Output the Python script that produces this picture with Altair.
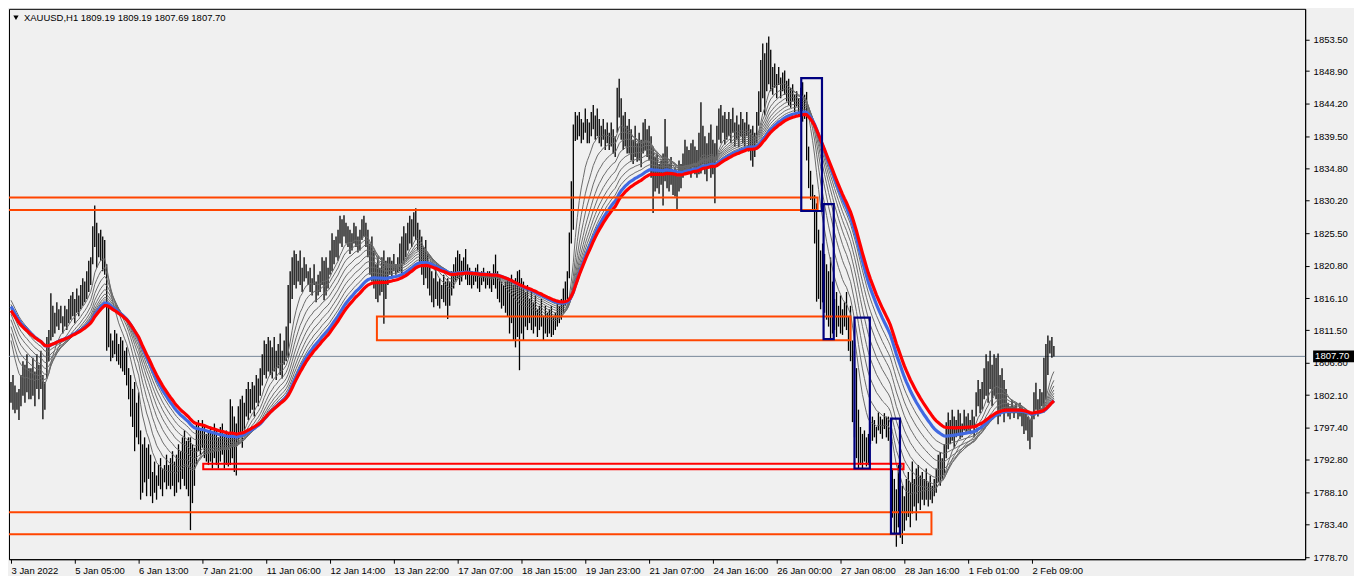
import json
import altair as alt
import pandas as pd

# ---------------- data (XAUUSD H1, one value per bar) ----------------
HIGH = [
    1804, 1805, 1803.5, 1802.5, 1803, 1805, 1807, 1806.5, 1808, 1806,
    1806, 1807.5, 1805.5, 1808, 1806.5, 1808.5, 1805, 1804, 1810.5, 1811.5,
    1816.8, 1815, 1814, 1815.5, 1814.5, 1815, 1813.5, 1815, 1814.5, 1816,
    1816.5, 1817, 1816, 1817.5, 1816.5, 1818, 1819, 1818.5, 1820, 1821.5,
    1822, 1826.5, 1829.5, 1827, 1825.5, 1826, 1825, 1824.5, 1821, 1815,
    1811, 1810, 1811.5, 1811, 1809.5, 1810.5, 1810, 1808.5, 1809, 1806,
    1805, 1803, 1804, 1801, 1802.5, 1797, 1795, 1796, 1794.5, 1795,
    1793.5, 1791, 1792.5, 1790.5, 1792, 1793, 1791.5, 1792, 1793.5, 1792,
    1793, 1794, 1792.5, 1793.5, 1795, 1794, 1796, 1797, 1795.5, 1796,
    1796, 1795, 1794.5, 1798, 1798.5, 1797, 1798.5, 1797.5, 1796.5, 1797,
    1797.5, 1796.5, 1798, 1797, 1796, 1797.5, 1798, 1796.5, 1797, 1796.5,
    1801.5, 1800.5, 1799, 1798, 1800.5, 1801.5, 1802, 1801, 1803, 1804,
    1803, 1804, 1803.5, 1805, 1804.5, 1806, 1808, 1810, 1809.5, 1810.5,
    1810, 1809, 1810.5, 1808.5, 1809.5, 1811, 1808.5, 1810, 1812, 1818,
    1820, 1822, 1823, 1822.5, 1821.5, 1823, 1820.5, 1822, 1821, 1820,
    1820.5, 1819, 1821, 1818.5, 1819.5, 1820, 1822, 1821.5, 1822, 1820.5,
    1823, 1825.5, 1824.5, 1825, 1826, 1828, 1827.5, 1828.1, 1827, 1826.5,
    1826, 1825.5, 1827, 1826.5, 1825, 1826, 1827.5, 1828, 1827, 1826,
    1824, 1825, 1823, 1821, 1822, 1820.5, 1822, 1823, 1821.5, 1822,
    1822, 1821.5, 1822.5, 1821, 1822, 1824, 1825, 1826.5, 1825.5, 1827,
    1828, 1827.5, 1828.5, 1829.1, 1827, 1826, 1825, 1823.5, 1824.5, 1822.5,
    1821, 1820, 1819, 1820.5, 1818.5, 1819, 1818, 1819.5, 1818.5, 1819,
    1818.5, 1820, 1821, 1822, 1823, 1822.5, 1821.5, 1822, 1823.2, 1821,
    1820.5, 1820, 1819.5, 1820.5, 1821, 1819.5, 1820, 1820.5, 1819.5, 1820,
    1820, 1819.5, 1821, 1822.4, 1820, 1819, 1818.5, 1818, 1818.5, 1819,
    1818.5, 1819.5, 1818, 1819, 1820, 1820.2, 1819, 1818.5, 1817, 1818,
    1816, 1817, 1815.5, 1816.5, 1814.5, 1815, 1816, 1813.5, 1815, 1814,
    1814.5, 1815, 1813.5, 1814, 1815.5, 1815, 1816, 1817.5, 1818.5, 1820,
    1825.6, 1833, 1841.2, 1843, 1842.5, 1843, 1842, 1841.5, 1843.5, 1842,
    1841.5, 1843, 1844, 1842.5, 1843.5, 1842, 1841, 1842, 1840.5, 1841.5,
    1840, 1841.5, 1840.5, 1839.5, 1846.5, 1847.8, 1845, 1842.5, 1843, 1841,
    1842, 1840.5, 1839, 1841, 1838.5, 1840, 1839, 1841.5, 1842, 1840.5,
    1841, 1839.5, 1838, 1836.5, 1837, 1835.5, 1836, 1837, 1842, 1838,
    1835.5, 1836.5, 1834.5, 1835, 1834, 1836, 1835.5, 1837, 1839, 1838,
    1837.5, 1838.5, 1839, 1838, 1837.5, 1840, 1844.4, 1841, 1839.5, 1838.5,
    1840, 1841.2, 1839, 1838.5, 1841, 1843.5, 1844, 1842.5, 1843, 1842,
    1843, 1842, 1843.6, 1841.5, 1842.5, 1841.2, 1843, 1842, 1841.5, 1843,
    1841.2, 1840.5, 1841, 1840, 1843, 1846, 1850.5, 1852.9, 1851.5, 1853,
    1853.9, 1852, 1849.5, 1850, 1848.5, 1849.5, 1848, 1848.7, 1849, 1847.5,
    1847.8, 1846.5, 1847, 1845.5, 1846, 1845, 1846.5, 1847.3, 1845.5, 1845.9,
    1838, 1834.5, 1832.5, 1831, 1829.8, 1826, 1823, 1824, 1822.5, 1821,
    1820, 1822, 1818.5, 1816, 1817, 1815, 1816.5, 1814.5, 1815.5, 1817,
    1813.5, 1815, 1810, 1808.5, 1806, 1800, 1797.5, 1796.5, 1797, 1796,
    1796.5, 1798, 1799, 1798.5, 1797.5, 1799.6, 1799, 1798.6, 1799.5, 1799,
    1799, 1797, 1791.5, 1790, 1788.5, 1792, 1791, 1789, 1787.5, 1790,
    1791, 1789.5, 1792.5, 1790, 1791.5, 1792, 1790.5, 1791, 1790, 1791.5,
    1789.5, 1790.5, 1789, 1790, 1791.5, 1793.5, 1793.9, 1793, 1795, 1798.2,
    1799.6, 1798.5, 1800, 1799, 1798.5, 1800, 1799.5, 1798, 1800, 1799,
    1799.5, 1798.5, 1800, 1799, 1802.5, 1804.3, 1803, 1804, 1806, 1808,
    1807, 1808.5, 1806.5, 1808, 1807.5, 1808.1, 1805, 1806, 1804.3, 1803,
    1801, 1800.5, 1801.4, 1800.5, 1801, 1800, 1801, 1800.5, 1800, 1799.5,
    1799, 1798.6, 1799.5, 1802.5, 1803.9, 1801.5, 1803, 1802.5, 1807.5, 1809.5,
    1810.7, 1810, 1810.5, 1809.19,
]
LOW = [
    1801, 1800, 1799.5, 1800, 1798.5, 1800.5, 1802, 1801, 1802.5, 1801.5,
    1801.5, 1802, 1800.5, 1803, 1801.5, 1803, 1798.6, 1800, 1804.5, 1807,
    1810, 1810.5, 1811, 1812, 1811.5, 1812.5, 1811, 1812, 1811.5, 1812.5,
    1813, 1813.5, 1812.5, 1814, 1813.5, 1814.5, 1815, 1815.5, 1816, 1817,
    1818, 1821, 1823.5, 1820.5, 1822, 1821.5, 1820, 1819.5, 1808.5, 1809,
    1807, 1807.5, 1808, 1807, 1806.5, 1806, 1805.5, 1805, 1803.5, 1801.5,
    1799, 1797.5, 1794, 1796, 1795, 1787, 1788, 1789.5, 1787.5, 1790,
    1787.5, 1786.5, 1788, 1787, 1789, 1788.5, 1787.5, 1789.5, 1788.5, 1789,
    1788.5, 1789, 1787.5, 1788, 1789.5, 1788.5, 1790, 1789, 1788.5, 1787.5,
    1782.6, 1786.5, 1789, 1792, 1794, 1793.5, 1794.5, 1793, 1792.5, 1792,
    1792.5, 1791.5, 1793, 1792, 1791.5, 1792.5, 1793.5, 1791.5, 1792, 1791.8,
    1792, 1793, 1791, 1790.5, 1795, 1796, 1794.5, 1797, 1799, 1798.5,
    1799.5, 1800, 1799, 1801, 1800.5, 1802, 1803.5, 1805, 1804.5, 1805.5,
    1805, 1804.5, 1805.5, 1804.3, 1806, 1805, 1804.5, 1806.5, 1807, 1807.5,
    1812.5, 1816, 1818, 1817.5, 1818.5, 1818, 1817, 1818.5, 1819, 1818,
    1817, 1816.5, 1818, 1815.5, 1816.5, 1817, 1818, 1815.8, 1816.5, 1817.5,
    1819.5, 1820, 1821, 1822, 1821.5, 1824, 1823.5, 1825, 1824, 1823.5,
    1822.5, 1823, 1824, 1823.5, 1822.7, 1823, 1824.5, 1825, 1823.5, 1822,
    1819.5, 1818.5, 1817.5, 1816, 1815.5, 1816.5, 1817, 1812.4, 1816, 1818,
    1819.5, 1819, 1820, 1819.5, 1819.8, 1820, 1819.5, 1821, 1822, 1823,
    1824, 1823.5, 1825, 1824.5, 1823, 1821, 1819.5, 1818, 1819, 1817.5,
    1816.5, 1815.5, 1814.8, 1816, 1815, 1814.6, 1816, 1815.5, 1815, 1813.1,
    1815, 1816.5, 1817.5, 1818.5, 1819, 1818, 1818.5, 1819.5, 1818.8, 1818,
    1818, 1817.5, 1818, 1818.5, 1817.5, 1817, 1818, 1818.5, 1817.5, 1818,
    1817.5, 1817, 1818, 1817.5, 1816, 1815.5, 1814.6, 1815, 1814, 1813.5,
    1811, 1812.5, 1810, 1809, 1810.5, 1805.7, 1811, 1810, 1812, 1811.5,
    1812.5, 1811.5, 1811, 1812, 1810.5, 1811.5, 1812, 1810, 1811, 1810.5,
    1811, 1810.5, 1810.8, 1811.5, 1812, 1812.5, 1813, 1814, 1815, 1816,
    1819, 1824, 1826, 1838.8, 1839, 1839.5, 1838.5, 1839, 1840, 1838.5,
    1838.5, 1839.5, 1840.5, 1839, 1839.5, 1838.5, 1838, 1839, 1837.5, 1838.5,
    1837.5, 1838, 1837, 1836.5, 1840, 1842.2, 1839, 1837.5, 1838, 1837,
    1837, 1836, 1835.5, 1836.5, 1835.8, 1836, 1835, 1837, 1837.5, 1836.5,
    1836, 1833.5, 1828.4, 1831.5, 1832, 1831.2, 1832.5, 1829.5, 1833, 1832,
    1831.5, 1832.5, 1831, 1830.8, 1828.7, 1831.5, 1832, 1833.5, 1834.5, 1834,
    1834.5, 1833.5, 1835, 1834, 1833.5, 1834, 1834.1, 1835.5, 1834, 1833,
    1835, 1833.5, 1834, 1829.8, 1836, 1839, 1838.5, 1840, 1838.3, 1839,
    1839.5, 1838.5, 1840, 1838, 1839, 1837.9, 1839.5, 1838.5, 1838, 1839.5,
    1837.3, 1836, 1835.1, 1836.5, 1838.5, 1841, 1843, 1845, 1842.5, 1846,
    1847, 1846, 1845.5, 1846.5, 1845, 1846.9, 1845, 1846, 1845.5, 1844.5,
    1844, 1843.6, 1844.5, 1843, 1843.8, 1842.5, 1843, 1841.6, 1842, 1836,
    1832, 1830.3, 1828.9, 1824, 1815.6, 1816, 1814.5, 1815.5, 1814, 1813,
    1812, 1810, 1811, 1811.5, 1810.5, 1812, 1811, 1810.8, 1812, 1811.5,
    1808.5, 1807, 1798.2, 1796, 1793, 1791.5, 1792, 1791.5, 1792.5, 1791.8,
    1792, 1795, 1795.5, 1796, 1795.1, 1797, 1796.5, 1795.8, 1797.2, 1796,
    1795.5, 1792, 1784.4, 1782, 1780.2, 1783, 1781.5, 1780.6, 1782.5, 1784,
    1784.5, 1783, 1785, 1786, 1784, 1786.5, 1785.5, 1787, 1786.2, 1787,
    1786, 1787, 1786.5, 1787.5, 1788, 1789.5, 1789, 1790, 1790.5, 1793,
    1794.3, 1795, 1795.5, 1794.5, 1796, 1796.5, 1795.8, 1796, 1797, 1796.5,
    1797, 1796.5, 1797.5, 1796, 1799, 1800.5, 1799.5, 1800, 1801.5, 1802,
    1801, 1803, 1800.5, 1802, 1801.5, 1797.9, 1799, 1800, 1798.2, 1799.5,
    1799, 1798.6, 1799.5, 1798.8, 1799.5, 1798.6, 1799, 1797.6, 1796.5, 1797,
    1795.5, 1794.3, 1796, 1798.6, 1800, 1799, 1800, 1800.5, 1799.6, 1801.5,
    1805, 1808.1, 1807.5, 1807.69,
]

# moving-average ribbon: periods and the values each line shows at the first bar
GRAY_PERIODS = [10, 15, 20, 25, 30, 35, 40, 45]
GRAY_START = [1810.0, 1811.0, 1812.0, 1813.0, 1813.8, 1814.5, 1815.2, 1815.8]
BLUE_PERIOD, BLUE_START = 50, 1814.9
RED_PERIOD, RED_START = 55, 1814.3

# time axis (every 32nd bar)
X_TICKS = list(range(0, 513, 32))
X_LABELS = ["3 Jan 2022", "5 Jan 05:00", "6 Jan 13:00", "7 Jan 21:00", "11 Jan 06:00",
            "12 Jan 14:00", "13 Jan 22:00", "17 Jan 07:00", "18 Jan 15:00", "19 Jan 23:00",
            "21 Jan 07:00", "24 Jan 16:00", "26 Jan 00:00", "27 Jan 08:00", "28 Jan 16:00",
            "1 Feb 01:00", "2 Feb 09:00"]
Y_TICKS = [1853.5, 1848.9, 1844.2, 1839.5, 1834.8, 1830.2, 1825.5, 1820.8, 1816.1,
           1811.5, 1806.8, 1802.1, 1797.4, 1792.8, 1788.1, 1783.4, 1778.7]

LAST_PRICE = 1807.70
HEADER = "XAUUSD,H1  1809.19 1809.19 1807.69 1807.70"

# zones drawn on the chart (bar-index span and price span)
ZONE_START = [-10, 183.5, 96.4, -10]
ZONE_END = [404.5, 421.0, 447.6, 461.6]
ZONE_LOW = [1828.85, 1810.03, 1791.38, 1782.01]
ZONE_HIGH = [1830.65, 1813.47, 1792.19, 1785.19]
ZONE_COLOR = ["#ff4500", "#ff4500", "#ff0000", "#ff4500"]

BOX_START = [396.3, 407.5, 423.0, 441.3]
BOX_END = [406.7, 412.6, 430.7, 445.8]
BOX_LOW = [1828.7, 1810.2, 1791.5, 1782.1]
BOX_HIGH = [1847.9, 1829.7, 1813.3, 1798.7]

# ---------------- build tables ----------------
W, H = 1300, 552
n = len(HIGH)
idx = list(range(n))
bars = pd.DataFrame({"i": idx, "high": HIGH, "low": LOW})
median = [(h + l) / 2 for h, l in zip(HIGH, LOW)]


def ema(period, start):
    a = 2.0 / (period + 1)
    out, v = [], start
    for k, p in enumerate(median):
        if k > 0:
            v = v + a * (p - v)
        out.append(v)
    return out


gray_rows = []
for per, st in zip(GRAY_PERIODS, GRAY_START):
    for k, v in enumerate(ema(per, st)):
        gray_rows.append({"i": k, "v": v, "s": f"ema{per}"})
gray = pd.DataFrame(gray_rows)
blue = pd.DataFrame({"i": idx, "v": ema(BLUE_PERIOD, BLUE_START)})
red = pd.DataFrame({"i": idx, "v": ema(RED_PERIOD, RED_START)})

zones = pd.DataFrame({"x0": ZONE_START, "x1": ZONE_END, "lo": ZONE_LOW, "hi": ZONE_HIGH, "c": ZONE_COLOR})
boxes = pd.DataFrame({"x0": BOX_START, "x1": BOX_END, "lo": BOX_LOW, "hi": BOX_HIGH})
last = pd.DataFrame({"p": [LAST_PRICE], "lo": [LAST_PRICE - 0.85], "hi": [LAST_PRICE + 0.85],
                     "t": [f"{LAST_PRICE:.2f}"]})
head = pd.DataFrame({"t": [HEADER]})

FONT = "Liberation Sans"
xscale = alt.Scale(domain=[-1.0, 649.0], nice=False, zero=False)
yscale = alt.Scale(domain=[1778.4, 1857.9], nice=False, zero=False)

label_expr = json.dumps(X_LABELS) + "[round(datum.value / 32)]"
xaxis = alt.Axis(values=X_TICKS, labelExpr=label_expr, orient="bottom", title=None, grid=False,
                 tickSize=4, tickColor="black", domainColor="black", labelAlign="left",
                 labelPadding=2, labelFont=FONT, labelFontSize=9.5, labelColor="black",
                 labelOverlap=False, labelFlush=False, labelBound=False)
yaxis = alt.Axis(values=Y_TICKS, format=".2f", orient="right", title=None, grid=False,
                 tickSize=4, tickColor="black", domainColor="black", labelPadding=4,
                 labelFont=FONT, labelFontSize=9.5, labelColor="black", labelOverlap=False)

X = lambda f: alt.X(f, type="quantitative", scale=xscale, axis=xaxis)
Y = lambda f: alt.Y(f, type="quantitative", scale=yscale, axis=yaxis)

price_line = alt.Chart(last).mark_rule(color="#778899", strokeWidth=1).encode(y=Y("p:Q"))

bar_layer = alt.Chart(bars).mark_rule(color="#000000", strokeWidth=1.3, opacity=1,
                                      strokeCap="butt").encode(
    x=X("i:Q"), y=Y("low:Q"), y2="high:Q")

gray_layer = alt.Chart(gray).mark_line(color="#6a6a6a", strokeWidth=1, clip=True).encode(
    x=X("i:Q"), y=Y("v:Q"), detail="s:N")
blue_layer = alt.Chart(blue).mark_line(color="#4169e1", strokeWidth=3.2, clip=True).encode(
    x=X("i:Q"), y=Y("v:Q"))
red_layer = alt.Chart(red).mark_line(color="#ff0000", strokeWidth=3.2, clip=True).encode(
    x=X("i:Q"), y=Y("v:Q"))

zone_layer = alt.Chart(zones).mark_rect(filled=False, strokeWidth=2, clip=True).encode(
    x=X("x0:Q"), x2="x1:Q", y=Y("lo:Q"), y2="hi:Q",
    stroke=alt.Stroke("c:N", scale=None))
box_layer = alt.Chart(boxes).mark_rect(filled=False, strokeWidth=2.2, stroke="#000080", clip=True).encode(
    x=X("x0:Q"), x2="x1:Q", y=Y("lo:Q"), y2="hi:Q")

tag_rect = alt.Chart(last).mark_rect(color="black").encode(
    x=alt.value(W + 8), x2=alt.value(W + 49), y=Y("lo:Q"), y2="hi:Q")
tag_text = alt.Chart(last).mark_text(color="white", align="left", baseline="middle",
                                     font=FONT, fontSize=9.5).encode(
    x=alt.value(W + 10), y=Y("p:Q"), text="t:N")

head_tri = alt.Chart(head).mark_point(shape="triangle-down", filled=True, color="black",
                                      size=28, opacity=1).encode(
    x=alt.value(7), y=alt.value(9))
head_text = alt.Chart(head).mark_text(color="black", align="left", baseline="middle",
                                      font=FONT, fontSize=9.5).encode(
    x=alt.value(15), y=alt.value(9), text="t:N")

chart = alt.layer(
    price_line, bar_layer, gray_layer, blue_layer, red_layer, zone_layer, box_layer,
    tag_rect, tag_text, head_tri, head_text
).properties(
    width=W, height=H, background="#f0f0f0", padding=0
).configure_view(
    stroke="black", strokeWidth=1
)

chart.save("out.html", embed_options={"renderer": "svg", "actions": False})
